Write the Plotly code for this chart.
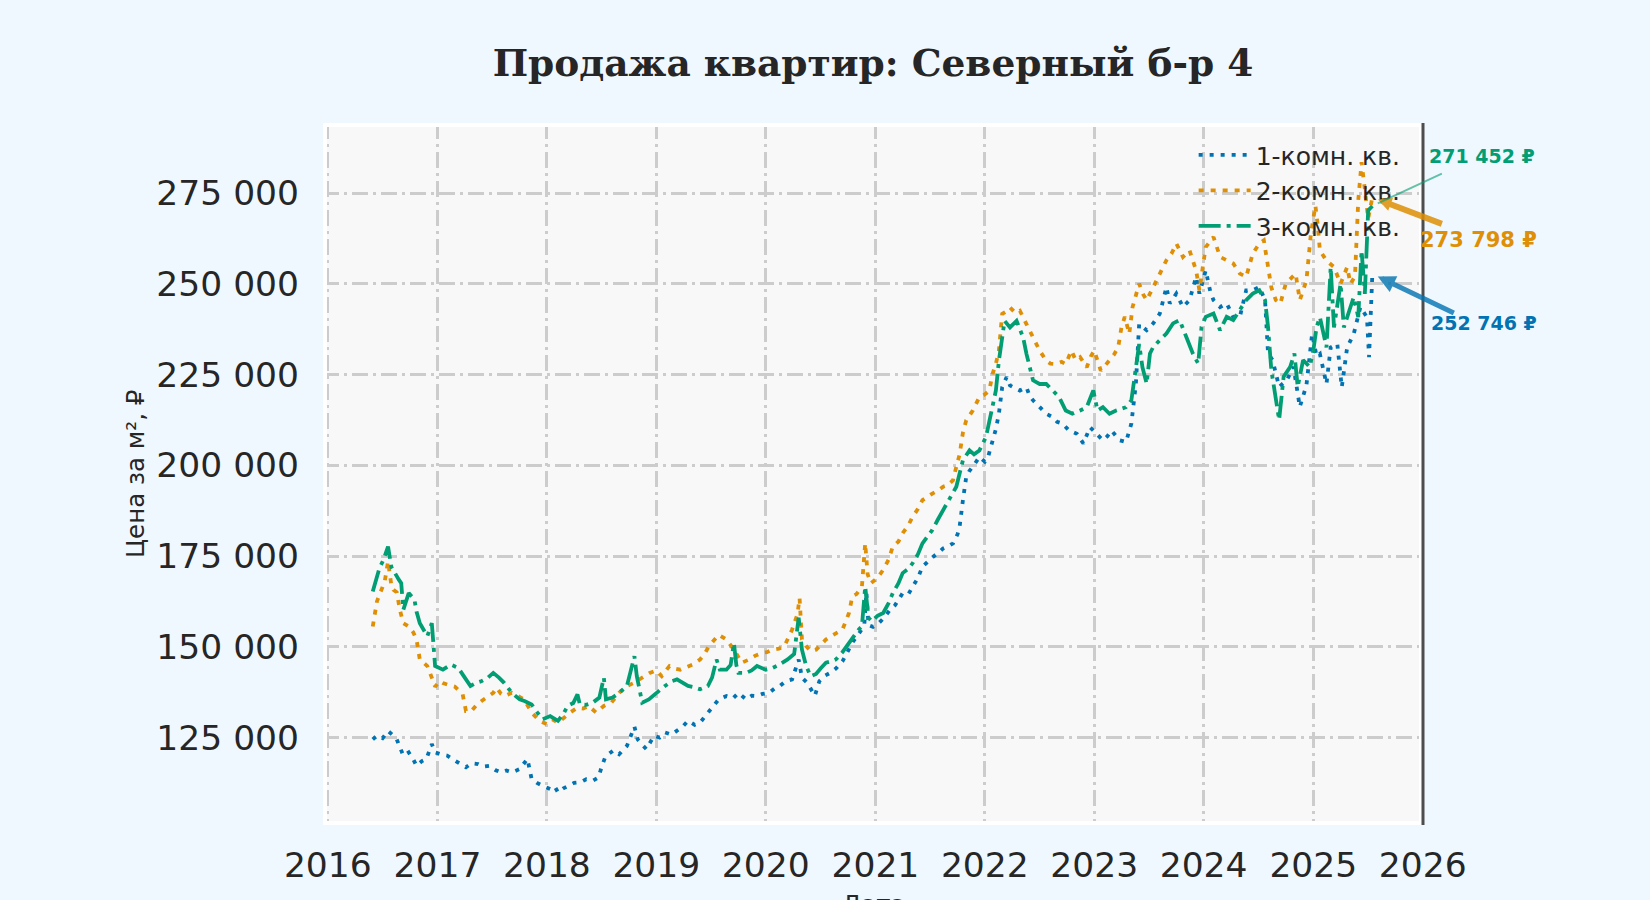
import pandas as pd
import plotly.graph_objects as go

# Цена за м² (тыс. ₽); время — в долях года
years_1k = [
    2016.41, 2016.45, 2016.50, 2016.55, 2016.60, 2016.63, 2016.69, 2016.74, 2016.78, 2016.81, 2016.86, 2016.90, 2016.95, 2016.98,
    2017.04, 2017.09, 2017.14, 2017.19, 2017.26, 2017.31, 2017.37, 2017.42, 2017.47, 2017.53, 2017.58, 2017.63, 2017.68, 2017.75, 2017.82, 2017.86, 2017.91, 2017.96,
    2018.03, 2018.07, 2018.10, 2018.15, 2018.19, 2018.25, 2018.31, 2018.36, 2018.42, 2018.47, 2018.50, 2018.53, 2018.56, 2018.61, 2018.66, 2018.70, 2018.73, 2018.80, 2018.83, 2018.87, 2018.91, 2018.95, 2018.98,
    2019.03, 2019.08, 2019.14, 2019.19, 2019.24, 2019.29, 2019.35, 2019.40, 2019.45, 2019.50, 2019.57, 2019.64, 2019.70, 2019.75, 2019.82, 2019.87, 2019.92, 2019.97,
    2020.03, 2020.08, 2020.13, 2020.18, 2020.24, 2020.30, 2020.33, 2020.38, 2020.45, 2020.49, 2020.54, 2020.59, 2020.64, 2020.70, 2020.75, 2020.80, 2020.86, 2020.90, 2020.92, 2020.94, 2020.98,
    2021.03, 2021.08, 2021.13, 2021.18, 2021.25, 2021.30, 2021.34, 2021.39, 2021.43, 2021.48, 2021.53, 2021.58, 2021.62, 2021.67, 2021.71, 2021.75, 2021.77, 2021.80, 2021.83, 2021.86, 2021.89, 2021.95,
    2022.00, 2022.03, 2022.07, 2022.10, 2022.13, 2022.16, 2022.20, 2022.23, 2022.26, 2022.32, 2022.38, 2022.41, 2022.44, 2022.50, 2022.56, 2022.62, 2022.66, 2022.71, 2022.77, 2022.84, 2022.90, 2022.96,
    2023.02, 2023.08, 2023.12, 2023.16, 2023.23, 2023.29, 2023.34, 2023.38, 2023.41, 2023.45, 2023.48, 2023.54, 2023.60, 2023.66, 2023.69, 2023.75, 2023.81, 2023.87, 2023.93, 2023.96,
    2024.02, 2024.06, 2024.09, 2024.15, 2024.21, 2024.27, 2024.33, 2024.39, 2024.45, 2024.51, 2024.56, 2024.59, 2024.63, 2024.69, 2024.76, 2024.82, 2024.88, 2024.94, 2024.99,
    2025.03, 2025.06, 2025.12, 2025.16, 2025.22, 2025.26, 2025.31, 2025.37, 2025.43, 2025.49, 2025.51, 2025.54,
]
price_1k = [
    124.5, 125.5, 124.8, 126.8, 125.5, 124.5, 120.0, 120.9, 119.0, 117.2, 118.5, 119.1, 123.2, 120.9,
    120.3, 120.0, 119.0, 118.1, 116.8, 117.9, 117.7, 117.0, 117.2, 116.0, 115.4, 115.9, 115.4, 116.3, 119.1, 113.6, 112.5, 111.7,
    110.8, 111.5, 109.9, 111.0, 111.7, 112.5, 112.7, 113.5, 113.1, 114.0, 117.0, 119.5, 120.4, 121.5, 120.4, 121.8, 122.7, 128.0, 124.5, 123.0, 121.8, 124.0, 125.5,
    125.0, 126.4, 125.8, 126.8, 128.0, 129.6, 128.5, 129.1, 131.0, 132.8, 135.5, 136.4, 135.8, 137.3, 135.5, 136.5, 136.4, 137.0,
    137.3, 138.5, 139.2, 140.5, 141.0, 146.5, 141.5, 140.0, 136.5, 140.5, 142.0, 142.8, 144.0, 146.0, 148.5, 151.5, 154.0, 156.0, 165.0, 156.0, 155.5,
    156.5, 158.0, 160.0, 161.5, 164.8, 164.5, 166.6, 169.0, 172.1, 173.5, 174.9, 176.0, 177.1, 177.8, 178.5, 181.0, 183.1, 190.4, 196.8, 198.5, 199.6, 202.3,
    201.0, 202.3, 206.9, 210.0, 214.2, 221.5, 224.3, 222.0, 221.5, 220.6, 221.5, 219.0, 217.9, 216.0, 214.2, 213.3, 212.0, 211.5, 209.6, 208.7, 206.0, 210.5,
    208.7, 206.9, 208.0, 209.6, 206.9, 206.4, 211.5, 222.4, 238.9, 238.0, 237.2, 239.1, 241.8, 249.1, 244.6, 247.3, 243.6, 245.5, 251.9, 247.3,
    253.7, 248.0, 245.5, 243.6, 244.6, 240.9, 240.9, 248.2, 248.2, 249.1, 245.5, 230.8, 229.0, 221.6, 223.5, 227.1, 216.1, 222.0, 236.2,
    230.0, 230.7, 222.4, 232.5, 233.5, 221.5, 232.5, 236.2, 243.6, 240.8, 229.8, 252.746,
]

years_2k = [
    2016.41, 2016.43, 2016.45, 2016.49, 2016.52, 2016.55, 2016.58, 2016.60, 2016.63, 2016.66, 2016.69, 2016.74, 2016.78, 2016.81, 2016.84, 2016.88, 2016.91, 2016.95, 2016.98,
    2017.02, 2017.05, 2017.10, 2017.16, 2017.23, 2017.26, 2017.31, 2017.36, 2017.40, 2017.45, 2017.51, 2017.54, 2017.58, 2017.61, 2017.68, 2017.73, 2017.79, 2017.86, 2017.93,
    2018.00, 2018.05, 2018.10, 2018.17, 2018.22, 2018.28, 2018.33, 2018.38, 2018.45, 2018.52, 2018.59, 2018.66, 2018.73, 2018.79, 2018.84, 2018.89, 2018.94,
    2019.00, 2019.05, 2019.12, 2019.17, 2019.22, 2019.28, 2019.33, 2019.40, 2019.44, 2019.48, 2019.53, 2019.57, 2019.64, 2019.71, 2019.78, 2019.85, 2019.90, 2019.96,
    2020.01, 2020.06, 2020.12, 2020.17, 2020.24, 2020.29, 2020.31, 2020.33, 2020.37, 2020.41, 2020.46, 2020.50, 2020.55, 2020.60, 2020.64, 2020.70, 2020.76, 2020.79, 2020.83, 2020.88, 2020.91, 2020.93, 2020.96,
    2021.02, 2021.07, 2021.12, 2021.16, 2021.21, 2021.25, 2021.30, 2021.34, 2021.39, 2021.43, 2021.48, 2021.52, 2021.57, 2021.62, 2021.66, 2021.71, 2021.74, 2021.77, 2021.80, 2021.83, 2021.89, 2021.95,
    2022.00, 2022.04, 2022.07, 2022.10, 2022.13, 2022.16, 2022.20, 2022.23, 2022.28, 2022.32, 2022.38, 2022.44, 2022.47, 2022.50, 2022.56, 2022.60, 2022.65, 2022.70, 2022.74, 2022.79, 2022.83, 2022.87, 2022.93, 2022.97,
    2023.00, 2023.06, 2023.10, 2023.14, 2023.18, 2023.22, 2023.25, 2023.28, 2023.32, 2023.35, 2023.41, 2023.45, 2023.48, 2023.54, 2023.60, 2023.66, 2023.71, 2023.75, 2023.81, 2023.87, 2023.93, 2023.96,
    2024.02, 2024.09, 2024.15, 2024.21, 2024.27, 2024.33, 2024.39, 2024.45, 2024.51, 2024.55, 2024.58, 2024.62, 2024.66, 2024.70, 2024.75, 2024.80, 2024.84, 2024.88, 2024.94, 2024.98,
    2025.02, 2025.04, 2025.06, 2025.12, 2025.19, 2025.25, 2025.31, 2025.34, 2025.38, 2025.41, 2025.44, 2025.47, 2025.50, 2025.54,
]
price_2k = [
    155.6, 160.0, 162.5, 165.7, 168.0, 173.5, 167.0, 165.7, 165.0, 160.0, 156.5, 155.6, 154.0, 152.0, 146.5, 145.5, 144.7, 141.5, 139.0,
    140.5, 140.0, 139.5, 139.0, 136.9, 132.3, 132.3, 134.0, 135.0, 136.0, 137.3, 138.7, 137.0, 136.4, 137.3, 136.5, 135.5, 131.9, 129.6,
    128.7, 130.0, 129.1, 130.9, 132.0, 133.2, 133.0, 133.7, 131.9, 133.7, 134.6, 137.3, 139.2, 140.0, 141.0, 142.0, 142.8,
    143.5, 141.9, 144.7, 144.0, 143.7, 144.5, 145.1, 146.5, 148.0, 150.1, 152.0, 153.3, 152.0, 149.2, 145.6, 146.5, 147.5, 148.3,
    148.5, 149.2, 149.5, 150.1, 154.7, 159.0, 163.4, 152.0, 150.2, 148.8, 149.2, 150.5, 152.0, 153.0, 153.8, 154.7, 159.3, 163.9, 164.5, 166.6, 178.5, 170.0, 167.5,
    169.0, 171.2, 174.0, 177.6, 179.0, 181.3, 183.5, 185.8, 188.0, 190.4, 191.5, 192.2, 193.0, 194.1, 194.5, 195.9, 199.6, 203.0, 209.0, 212.4, 215.1, 218.8,
    219.5, 220.6, 225.2, 228.0, 231.6, 241.7, 242.5, 243.5, 242.0, 242.6, 238.9, 235.2, 233.0, 231.6, 228.8, 228.0, 227.9, 228.5, 227.9, 231.6, 229.0, 229.8, 227.0, 230.0,
    231.6, 226.1, 227.5, 228.8, 230.5, 232.5, 238.0, 240.9, 236.2, 243.6, 250.0, 247.0, 245.5, 249.1, 252.8, 256.5, 258.5, 261.1, 257.4, 259.2, 253.7, 248.2,
    260.1, 262.9, 257.4, 256.5, 255.6, 252.8, 251.9, 258.3, 261.1, 262.0, 255.5, 249.0, 245.5, 244.5, 250.0, 251.5, 252.8, 245.5, 250.9, 263.8,
    271.5, 266.0, 259.2, 256.4, 254.6, 250.0, 254.6, 250.0, 252.0, 273.0, 283.5, 276.0, 268.0, 273.798,
]

years_3k = [
    2016.41, 2016.44, 2016.47, 2016.51, 2016.55, 2016.58, 2016.62, 2016.65, 2016.67, 2016.69, 2016.74, 2016.79, 2016.81, 2016.84, 2016.91, 2016.95, 2016.98,
    2017.05, 2017.12, 2017.19, 2017.25, 2017.30, 2017.35, 2017.40, 2017.46, 2017.51, 2017.56, 2017.61, 2017.68, 2017.75, 2017.80, 2017.86, 2017.91, 2017.96,
    2018.03, 2018.10, 2018.15, 2018.19, 2018.24, 2018.28, 2018.30, 2018.36, 2018.42, 2018.48, 2018.52, 2018.54, 2018.60, 2018.66, 2018.73, 2018.80, 2018.82, 2018.87, 2018.93, 2018.98,
    2019.03, 2019.08, 2019.14, 2019.19, 2019.24, 2019.29, 2019.35, 2019.40, 2019.47, 2019.51, 2019.55, 2019.58, 2019.64, 2019.68, 2019.71, 2019.73, 2019.75, 2019.82, 2019.87, 2019.92,
    2020.00, 2020.05, 2020.10, 2020.15, 2020.20, 2020.26, 2020.30, 2020.33, 2020.37, 2020.41, 2020.46, 2020.50, 2020.55, 2020.60, 2020.64, 2020.70, 2020.76, 2020.80, 2020.85, 2020.88, 2020.91, 2020.94, 2020.97,
    2021.02, 2021.07, 2021.12, 2021.16, 2021.21, 2021.25, 2021.30, 2021.34, 2021.39, 2021.43, 2021.48, 2021.52, 2021.57, 2021.62, 2021.68, 2021.74, 2021.80, 2021.86, 2021.90, 2021.95,
    2022.01, 2022.06, 2022.10, 2022.13, 2022.18, 2022.23, 2022.29, 2022.35, 2022.38, 2022.44, 2022.50, 2022.56, 2022.62, 2022.68, 2022.74, 2022.80, 2022.87, 2022.93, 2022.99,
    2023.03, 2023.08, 2023.14, 2023.20, 2023.25, 2023.29, 2023.34, 2023.37, 2023.41, 2023.44, 2023.48, 2023.51, 2023.54, 2023.60, 2023.66, 2023.72, 2023.78, 2023.84, 2023.90, 2023.95, 2023.98,
    2024.02, 2024.09, 2024.15, 2024.21, 2024.27, 2024.33, 2024.39, 2024.45, 2024.51, 2024.56, 2024.59, 2024.62, 2024.65, 2024.69, 2024.73, 2024.79, 2024.83, 2024.86, 2024.91, 2024.97,
    2025.00, 2025.03, 2025.06, 2025.12, 2025.16, 2025.19, 2025.25, 2025.28, 2025.34, 2025.37, 2025.41, 2025.44, 2025.47, 2025.50, 2025.54,
]
price_3k = [
    165.2, 168.0, 171.6, 174.0, 177.6, 172.0, 169.8, 168.5, 167.5, 160.2, 164.8, 163.0, 159.7, 156.5, 152.9, 156.5, 144.7,
    143.7, 145.1, 144.2, 141.5, 139.2, 140.0, 140.5, 141.5, 142.8, 141.5, 140.0, 137.3, 135.5, 135.0, 134.1, 132.0, 130.0,
    130.9, 129.6, 131.5, 133.7, 134.5, 136.9, 134.1, 134.0, 134.6, 136.0, 141.5, 135.5, 136.0, 137.3, 139.2, 147.4, 141.9, 134.6, 135.5, 136.9,
    138.0, 139.2, 140.5, 141.0, 140.0, 139.2, 138.8, 138.3, 139.2, 141.5, 146.5, 143.7, 143.7, 145.0, 151.0, 145.0, 142.8, 142.8, 143.5, 144.7,
    143.7, 144.0, 144.7, 145.5, 146.5, 148.0, 158.0, 149.2, 144.7, 141.9, 142.5, 144.0, 145.6, 146.0, 146.5, 148.5, 151.1, 152.9, 154.7, 155.6, 166.6, 158.0, 157.0,
    158.5, 159.3, 162.0, 164.8, 167.5, 170.3, 171.5, 173.0, 175.5, 178.5, 180.5, 182.2, 185.0, 187.7, 191.3, 194.1, 201.4, 204.1, 203.0, 204.1,
    207.8, 214.2, 220.6, 228.8, 239.8, 238.0, 239.8, 235.2, 230.7, 223.4, 222.4, 222.4, 220.6, 218.8, 215.1, 214.2, 215.1, 216.0, 220.6,
    215.1, 216.0, 214.2, 215.1, 215.5, 216.0, 217.9, 224.3, 233.4, 227.0, 222.5, 230.8, 232.6, 234.5, 236.3, 239.1, 240.0, 235.4, 230.8, 228.0, 238.1,
    240.9, 241.8, 237.2, 240.9, 240.0, 242.7, 245.5, 247.3, 248.2, 245.5, 238.1, 226.2, 219.8, 212.5, 224.4, 227.1, 230.8, 221.6, 229.0, 227.1,
    231.6, 238.1, 240.8, 232.5, 254.6, 238.0, 250.0, 238.0, 243.6, 246.3, 240.8, 259.2, 247.2, 270.2, 271.452,
]

labels = ["1-комн. кв.", "2-комн. кв.", "3-комн. кв."]
y_ticks = [125000, 150000, 175000, 200000, 225000, 250000, 275000]


def to_date(y):
    start = pd.Timestamp(year=int(y), month=1, day=1)
    return start + pd.Timedelta(days=round((y - int(y)) * 365.25))


colors = ["#0173b2", "#de8f05", "#029e73"]
arrow_colors = ["rgba(1,115,178,0.8)", "rgba(222,143,5,0.85)", "rgba(2,158,115,0.6)"]
dashes = ["4px,7px", "5px,7px", "22px,6px,4px,6px"]

fig = go.Figure()
all_series = [(years_1k, price_1k), (years_2k, price_2k), (years_3k, price_3k)]
for (yrs, vals), name, color, dash in zip(all_series, labels, colors, dashes):
    fig.add_trace(go.Scatter(
        x=[to_date(y) for y in yrs],
        y=[v * 1000 for v in vals],
        mode="lines",
        name=name,
        line=dict(color=color, width=3.8, dash=dash),
    ))

# подписи последних значений со стрелками
label_pos = [(1.0552, 0.7151, 19), (1.050, 0.8333, 21), (1.0533, 0.9534, 19)]
arrow_off = [(83, 40, 5, 2, 0.7), (71, 27, 6, 2, 0.45), (71, -33, 2, 0, 1)]
for (yrs, vals), color, acol, (lx, ly, fs), (ax, ay, aw, ah, asz) in zip(
        all_series, colors, arrow_colors, label_pos, arrow_off):
    last = vals[-1] * 1000
    txt = f"{last:,.0f}".replace(",", " ") + " ₽"
    fig.add_annotation(x=to_date(yrs[-1]), y=last, text="", showarrow=True,
                       ax=ax, ay=ay, arrowcolor=acol, arrowwidth=aw,
                       arrowhead=ah, arrowsize=asz, standoff=6)
    fig.add_annotation(x=lx, y=ly, xref="paper", yref="paper", text=f"<b>{txt}</b>",
                       xanchor="center", yanchor="middle", showarrow=False,
                       font=dict(family="DejaVu Sans", size=fs, color=color))

# подписи осей
fig.add_annotation(x=-0.171, y=0.5, xref="paper", yref="paper", text="Цена за м², ₽",
                   textangle=-90, xanchor="center", yanchor="middle", showarrow=False,
                   font=dict(family="DejaVu Sans", size=24.5, color="#262626"))
fig.add_annotation(x=0.5, y=-0.090, xref="paper", yref="paper", text="Дата",
                   xanchor="center", yanchor="top", showarrow=False,
                   font=dict(family="DejaVu Sans", size=24.5, color="#262626"))

# рамка области и тёмная правая граница
fig.add_shape(type="rect", xref="paper", yref="paper", x0=0.0018, x1=0.9982, y0=0.0028, y1=0.9972,
              line=dict(color="white", width=4), layer="above")
fig.add_shape(type="line", xref="paper", yref="paper", x0=1, x1=1, y0=0, y1=1,
              line=dict(color="#4d4d4d", width=3), layer="above")

grid = dict(showgrid=True, gridcolor="#cccccc", gridwidth=2.5, griddash="16px,5px,3px,5px",
            zeroline=False, showline=False, ticks="",
            tickfont=dict(family="DejaVu Sans", size=34.5, color="#262626"))

fig.update_layout(
    width=1650, height=900,
    paper_bgcolor="#f0f8ff", plot_bgcolor="#f8f8f8",
    margin=dict(l=323, r=227, t=123, b=75),
    separators=". ",
    title=dict(text="<b>Продажа квартир: Северный б-р 4</b>", x=0.5, xref="paper",
               y=1 - 63 / 900, yref="container", yanchor="middle", xanchor="center",
               font=dict(family="DejaVu Serif", size=37.5, color="#262626")),
    legend=dict(x=0.7915, y=0.987, xanchor="left", yanchor="top", bgcolor="rgba(0,0,0,0)",
                font=dict(family="DejaVu Sans", size=25, color="#262626"), itemwidth=52),
    showlegend=True,
)
fig.update_xaxes(range=["2015-12-16", "2026-01-02"], dtick="M12", tick0="2016-01-01",
                 tickformat="%Y", ticklabelstandoff=16, **grid)
fig.update_yaxes(range=[100900, 294300], tickvals=y_ticks, tickformat=",d",
                 ticklabelstandoff=23, **grid)

fig.write_html("out.html", config={"displayModeBar": False},
               post_script="document.body.style.margin = '0';")
